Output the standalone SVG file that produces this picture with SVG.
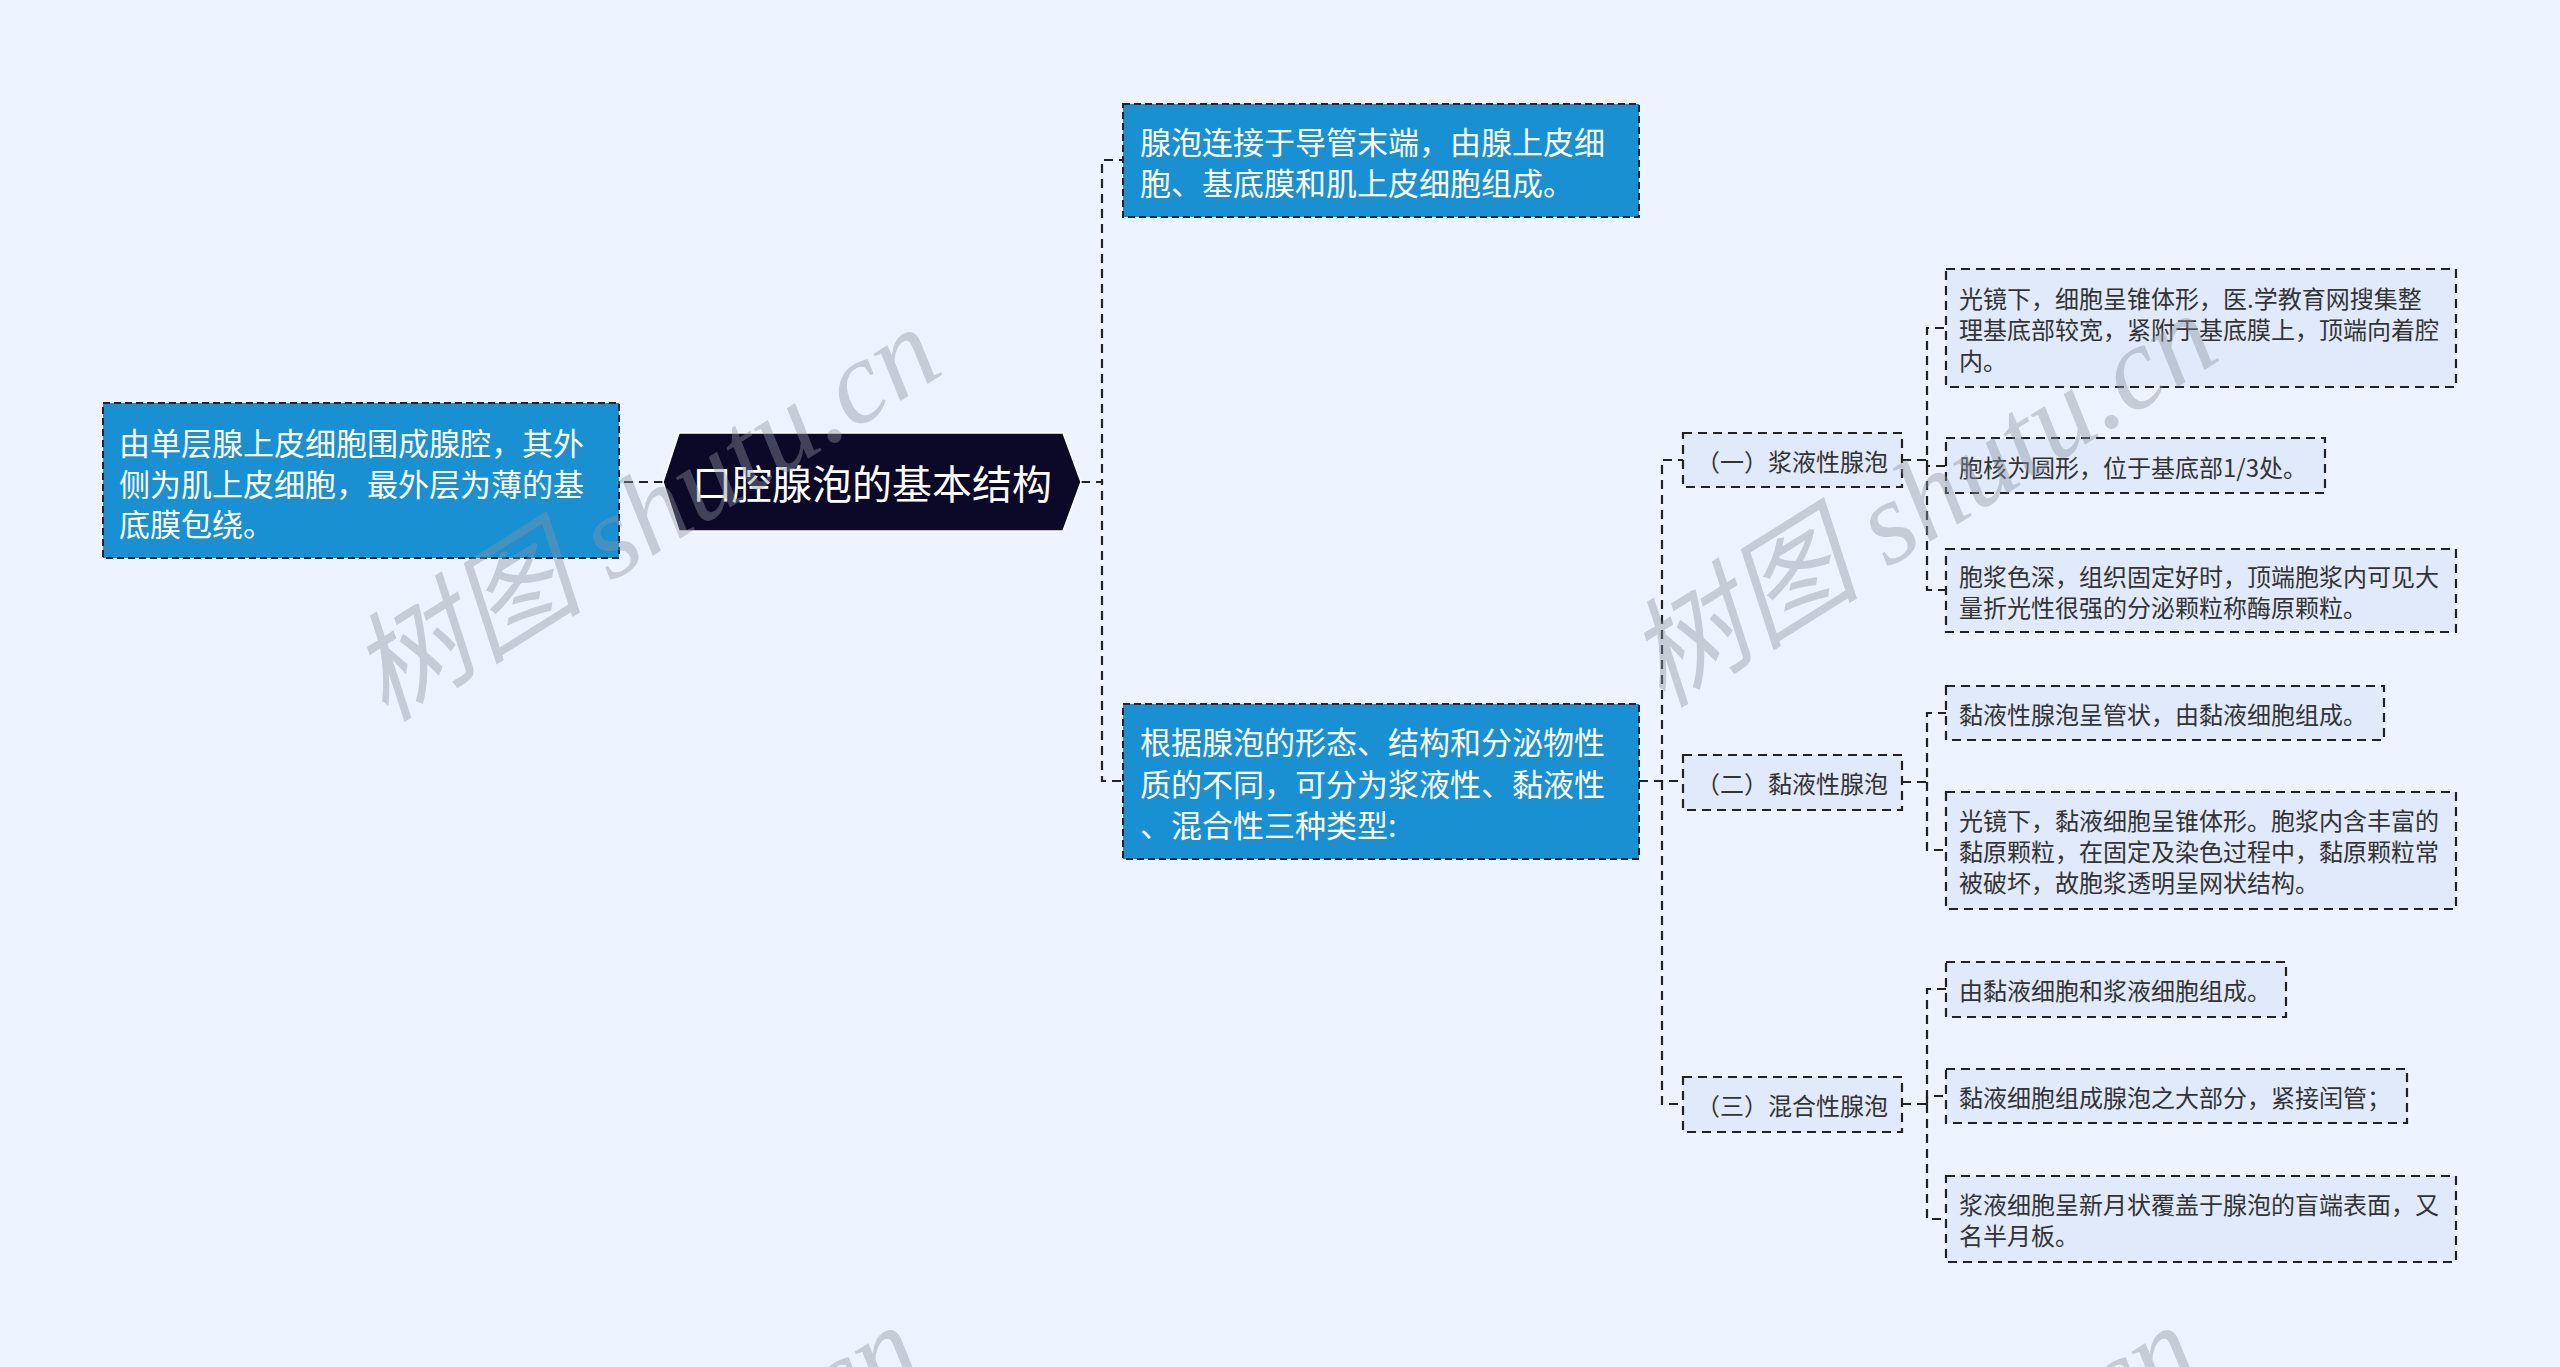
<svg xmlns="http://www.w3.org/2000/svg" width="2560" height="1367" viewBox="0 0 2560 1367">
<style>
.wm{font-family:"Liberation Serif","Noto Sans CJK SC",serif;font-style:italic;font-size:118px;fill:#8c93a0;fill-opacity:0.42;}
.blue{fill:#1890d2;stroke:#1c2440;stroke-width:2;stroke-dasharray:7 4;}
.light{fill:#e0eafb;stroke:#222;stroke-width:2.2;stroke-dasharray:9 6;}
.wt{font-family:"Noto Sans CJK SC","Liberation Sans",sans-serif;font-size:31px;fill:#ffffff;dominant-baseline:central;}
.lt{font-family:"Noto Sans CJK SC","Liberation Sans",sans-serif;font-size:24px;fill:#333333;dominant-baseline:central;}
.ct{font-family:"Noto Sans CJK SC","Liberation Sans",sans-serif;font-size:24px;fill:#333333;dominant-baseline:central;text-anchor:middle;}
.rt{font-family:"Noto Sans CJK SC","Liberation Sans",sans-serif;font-size:40px;fill:#ffffff;dominant-baseline:central;text-anchor:middle;}
.conn path{fill:none;stroke:#222;stroke-width:2.2;stroke-dasharray:9 6;}
</style>
<rect x="0" y="0" width="2560" height="1367" fill="#eef4ff"/>

<g id="connectors" class="conn">
<path d="M663,482 H619"/>
<path d="M1081,482 H1102 V160 H1123"/>
<path d="M1081,482 H1102 V781 H1123"/>
<path d="M1639,781 H1662 V460 H1683"/>
<path d="M1639,781 H1683"/>
<path d="M1662,781 V1104 H1683"/>
<path d="M1902,460 H1927 V328 H1946"/>
<path d="M1927,460 V466 H1946"/>
<path d="M1927,466 V590 H1946"/>
<path d="M1902,782 H1927 V713 H1946"/>
<path d="M1927,782 V850 H1946"/>
<path d="M1902,1104 H1927 V989 H1946"/>
<path d="M1927,1104 V1096 H1946"/>
<path d="M1927,1104 V1219 H1946"/>
</g>

<g id="root">
<polygon points="663,482 679,433 1063,433 1081,482 1063,531 679,531" fill="#0b0828" stroke="#ffffff" stroke-width="1.5"/>
<text class="rt" x="872" y="482">口腔腺泡的基本结构</text>
</g>

<g id="left-node">
<rect class="blue" x="103" y="403" width="516" height="155"/>
<text class="wt" x="119" y="441">由单层腺上皮细胞围成腺腔，其外</text>
<text class="wt" x="119" y="482">侧为肌上皮细胞，最外层为薄的基</text>
<text class="wt" x="119" y="522">底膜包绕。</text>
</g>

<g id="top-node">
<rect class="blue" x="1123" y="104" width="516" height="113"/>
<text class="wt" x="1140" y="140">腺泡连接于导管末端，由腺上皮细</text>
<text class="wt" x="1140" y="181">胞、基底膜和肌上皮细胞组成。</text>
</g>

<g id="types-node">
<rect class="blue" x="1123" y="704" width="516" height="155"/>
<text class="wt" x="1140" y="740">根据腺泡的形态、结构和分泌物性</text>
<text class="wt" x="1140" y="782">质的不同，可分为浆液性、黏液性</text>
<text class="wt" x="1140" y="823">、混合性三种类型:</text>
</g>

<g id="cat-1">
<rect class="light" x="1683" y="433" width="219" height="54"/>
<text class="ct" x="1792" y="460">（一）浆液性腺泡</text>
</g>
<g id="cat-2">
<rect class="light" x="1683" y="755" width="219" height="55"/>
<text class="ct" x="1792" y="782">（二）黏液性腺泡</text>
</g>
<g id="cat-3">
<rect class="light" x="1683" y="1077" width="219" height="55"/>
<text class="ct" x="1792" y="1104">（三）混合性腺泡</text>
</g>

<g id="leaf-1">
<rect class="light" x="1946" y="269" width="510" height="118"/>
<text class="lt" x="1959" y="297">光镜下，细胞呈锥体形，医.学教育网搜集整</text>
<text class="lt" x="1959" y="328">理基底部较宽，紧附于基底膜上，顶端向着腔</text>
<text class="lt" x="1959" y="359">内。</text>
</g>
<g id="leaf-2">
<rect class="light" x="1946" y="438" width="379" height="55"/>
<text class="lt" x="1959" y="466">胞核为圆形，位于基底部1/3处。</text>
</g>
<g id="leaf-3">
<rect class="light" x="1946" y="549" width="510" height="83"/>
<text class="lt" x="1959" y="575">胞浆色深，组织固定好时，顶端胞浆内可见大</text>
<text class="lt" x="1959" y="606">量折光性很强的分泌颗粒称酶原颗粒。</text>
</g>
<g id="leaf-4">
<rect class="light" x="1946" y="686" width="438" height="54"/>
<text class="lt" x="1959" y="713">黏液性腺泡呈管状，由黏液细胞组成。</text>
</g>
<g id="leaf-5">
<rect class="light" x="1946" y="792" width="510" height="117"/>
<text class="lt" x="1959" y="819">光镜下，黏液细胞呈锥体形。胞浆内含丰富的</text>
<text class="lt" x="1959" y="850">黏原颗粒，在固定及染色过程中，黏原颗粒常</text>
<text class="lt" x="1959" y="881">被破坏，故胞浆透明呈网状结构。</text>
</g>
<g id="leaf-6">
<rect class="light" x="1946" y="962" width="340" height="55"/>
<text class="lt" x="1959" y="989">由黏液细胞和浆液细胞组成。</text>
</g>
<g id="leaf-7">
<rect class="light" x="1946" y="1069" width="461" height="54"/>
<text class="lt" x="1959" y="1096">黏液细胞组成腺泡之大部分，紧接闰管；</text>
</g>
<g id="leaf-8">
<rect class="light" x="1946" y="1176" width="510" height="86"/>
<text class="lt" x="1959" y="1203">浆液细胞呈新月状覆盖于腺泡的盲端表面，又</text>
<text class="lt" x="1959" y="1234">名半月板。</text>
</g>

<g id="watermarks">
<text class="wm" x="645" y="514" text-anchor="middle" dominant-baseline="central" transform="rotate(-32 645 514)">树图 shutu.cn</text>
<text class="wm" x="1922" y="500" text-anchor="middle" dominant-baseline="central" transform="rotate(-32 1922 500)">树图 shutu.cn</text>
<text class="wm" x="626" y="1512" text-anchor="middle" dominant-baseline="central" transform="rotate(-32 626 1512)">树图 shutu.cn</text>
<text class="wm" x="1903" y="1512" text-anchor="middle" dominant-baseline="central" transform="rotate(-32 1903 1512)">树图 shutu.cn</text>
</g>
</svg>
